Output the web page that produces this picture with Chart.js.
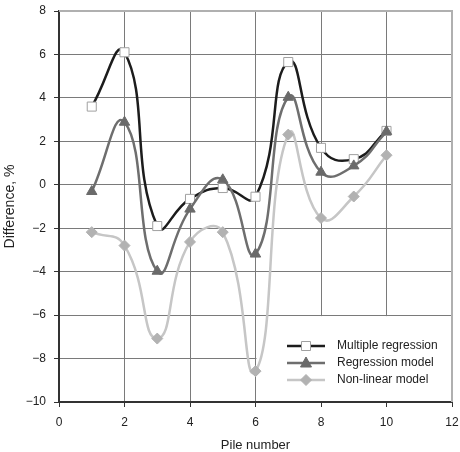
<!DOCTYPE html>
<html>
<head>
<meta charset="utf-8">
<script src="https://cdn.jsdelivr.net/npm/chart.js@4/dist/chart.umd.min.js"></script>
<style>
  html, body { margin: 0; padding: 0; background: #fff; }
  #wrap { width: 460px; height: 452px; position: relative; }
</style>
</head>
<body>
<div id="wrap"><canvas id="chart"></canvas></div>
<script>
// pile difference chart — three models

const pileNumbers = [1, 2, 3, 4, 5, 6, 7, 8, 9, 10];
const multipleRegression = [3.6, 6.1, -1.9, -0.65, -0.15, -0.55, 5.65, 1.7, 1.18, 2.48];
const regressionModel = [-0.31, 2.88, -3.98, -1.12, 0.23, -3.19, 4.03, 0.58, 0.87, 2.45];
const nonLinearModel = [-2.18, -2.8, -7.08, -2.63, -2.18, -8.58, 2.31, -1.53, -0.54, 1.36];

const seriesNames = ['Multiple regression', 'Regression model', 'Non-linear model'];

const COLORS = {
  multiLine: '#1c1c1c',
  multiFill: '#ffffff',
  multiBorder: '#a0a0a0',
  regLine: '#6e6e6e',
  regFill: '#6a6a6a',
  nlLine: '#c6c6c6',
  nlFill: '#b2b2b2',
  grid: '#7a7a7a',
  axis: '#333333',
  frame: '#b0b0b0',
  text: '#222222',
};

const FONT = 'Arial, "Liberation Sans", sans-serif';

function toPoints(ys) {
  return pileNumbers.map((x, i) => ({ x, y: ys[i] }));
}

function fmtTick(v) {
  return v < 0 ? '\u2212' + Math.abs(v) : String(v);
}

// legend drawn inside plot area, bottom right, with white box hiding grid
const insideLegend = {
  id: 'insideLegend',
  beforeDatasetsDraw(chart) {
    const { ctx, chartArea } = chart;
    const xs = chart.scales.x, ys = chart.scales.y;
    ctx.save();
    ctx.fillStyle = '#fff';
    const left = xs.getPixelForValue(6) + 1;
    const top = ys.getPixelForValue(-6) + 1;
    ctx.fillRect(left, top, chartArea.right - left - 1, chartArea.bottom - top - 1);
    // top and right frame
    ctx.strokeStyle = COLORS.frame;
    ctx.lineWidth = 2;
    ctx.beginPath();
    ctx.moveTo(chartArea.left, chartArea.top);
    ctx.lineTo(chartArea.right, chartArea.top);
    ctx.lineTo(chartArea.right, chartArea.bottom);
    ctx.stroke();
    ctx.restore();
  },
  afterDatasetsDraw(chart) {
    const { ctx } = chart;
    const items = chart.data.datasets;
    const x0 = 287, x1 = 325, cx = 306, tx = 337;
    const rows = [346, 363, 380];
    ctx.save();
    items.forEach((ds, i) => {
      const y = rows[i];
      ctx.strokeStyle = ds.borderColor;
      ctx.lineWidth = 2.5;
      ctx.beginPath();
      ctx.moveTo(x0, y);
      ctx.lineTo(x1, y);
      ctx.stroke();
      ctx.fillStyle = ds.pointBackgroundColor;
      ctx.strokeStyle = ds.pointBorderColor;
      ctx.lineWidth = 1;
      ctx.beginPath();
      if (ds.pointStyle === 'rect') {
        ctx.rect(cx - 4.5, y - 4.5, 9, 9);
      } else if (ds.pointStyle === 'triangle') {
        ctx.moveTo(cx, y - 6);
        ctx.lineTo(cx + 5.5, y + 4);
        ctx.lineTo(cx - 5.5, y + 4);
        ctx.closePath();
      } else {
        ctx.moveTo(cx, y - 5.5);
        ctx.lineTo(cx + 5.5, y);
        ctx.lineTo(cx, y + 5.5);
        ctx.lineTo(cx - 5.5, y);
        ctx.closePath();
      }
      ctx.fill();
      ctx.stroke();
      ctx.fillStyle = COLORS.text;
      ctx.font = '12px ' + FONT;
      ctx.textAlign = 'left';
      ctx.textBaseline = 'middle';
      ctx.fillText(ds.label, tx, y);
    });
    ctx.restore();
  },
};

const ctx = document.getElementById('chart');

new Chart(ctx, {
  type: 'line',
  data: {
    datasets: [
      {
        label: seriesNames[0],
        data: toPoints(multipleRegression),
        borderColor: COLORS.multiLine,
        borderWidth: 2.5,
        pointStyle: 'rect',
        pointRadius: 6.4,
        pointBackgroundColor: COLORS.multiFill,
        pointBorderColor: COLORS.multiBorder,
        pointBorderWidth: 1,
        tension: 0.5,
        order: 2,
      },
      {
        label: seriesNames[1],
        data: toPoints(regressionModel),
        borderColor: COLORS.regLine,
        borderWidth: 2.5,
        pointStyle: 'triangle',
        pointRadius: 6,
        pointBackgroundColor: COLORS.regFill,
        pointBorderColor: COLORS.regFill,
        pointBorderWidth: 1,
        tension: 0.5,
        order: 1,
      },
      {
        label: seriesNames[2],
        data: toPoints(nonLinearModel),
        borderColor: COLORS.nlLine,
        borderWidth: 2.5,
        pointStyle: 'rectRot',
        pointRadius: 5.5,
        pointBackgroundColor: COLORS.nlFill,
        pointBorderColor: COLORS.nlFill,
        pointBorderWidth: 1,
        tension: 0.5,
        order: 3,
      },
    ],
  },
  options: {
    responsive: true,
    maintainAspectRatio: false,
    animation: false,
    layout: { padding: { top: 11, right: 8, left: 0, bottom: 0 } },
    plugins: {
      legend: { display: false },
      tooltip: { enabled: false },
    },
    scales: {
      x: {
        type: 'linear',
        min: 0,
        max: 12,
        ticks: {
          stepSize: 2,
          color: COLORS.text,
          font: { family: FONT, size: 12 },
          padding: 8,
          maxRotation: 0,
          callback: fmtTick,
        },
        grid: { color: COLORS.grid, lineWidth: 1, tickLength: 5, tickColor: COLORS.axis },
        border: { color: COLORS.axis, width: 2 },
        title: {
          display: true,
          text: 'Pile number',
          color: COLORS.text,
          font: { family: FONT, size: 13, lineHeight: 1 },
          padding: { top: 0, bottom: 0 },
        },
        afterFit(scale) {
          scale.height = 50;
          scale.paddingLeft = 0;
          scale.paddingRight = 0;
        },
      },
      y: {
        min: -10,
        max: 8,
        ticks: {
          stepSize: 2,
          color: COLORS.text,
          font: { family: FONT, size: 12 },
          padding: 8,
          callback: fmtTick,
        },
        grid: { color: COLORS.grid, lineWidth: 1, tickLength: 5, tickColor: COLORS.axis },
        border: { color: COLORS.axis, width: 2 },
        title: {
          display: true,
          text: 'Difference, %',
          color: COLORS.text,
          font: { family: FONT, size: 14, lineHeight: 1.2 },
          padding: { top: 2, bottom: 0 },
        },
        afterFit(scale) {
          scale.width = 59;
          scale.paddingTop = 0;
          scale.paddingBottom = 0;
        },
      },
    },
  },
  plugins: [insideLegend],
});
</script>
</body>
</html>
